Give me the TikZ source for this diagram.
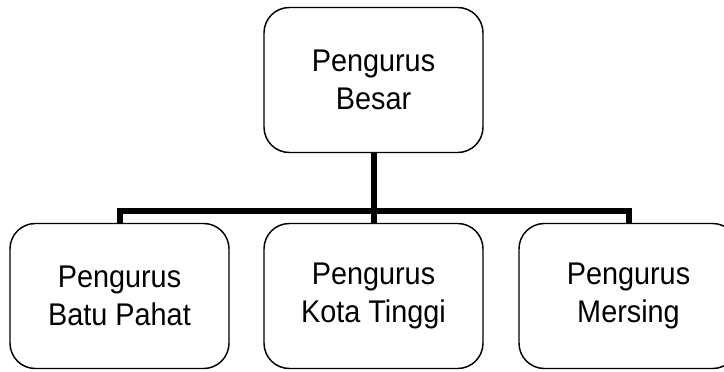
\documentclass[tikz,border=0pt]{standalone}
\usepackage{fontspec}
\setmainfont[FakeStretch=0.92]{Liberation Sans}
\tikzset{every picture/.style={line width=0.75pt}}
\tikzset{
  unitbox/.style={draw, rounded corners=19pt, line width=1.1pt, minimum width=164.25pt,
    minimum height=108.75pt, align=center, font=\fontsize{23.5}{28}\selectfont},
  bar/.style={line width=4.5pt}
}

\begin{document}
\begin{tikzpicture}[x=0.75pt,y=0.75pt,yscale=-1,xscale=1]
\useasboundingbox (0,0) rectangle (724,371);

% Boxes
\node (besar) [unitbox] at (373.5,80) {Pengurus\\Besar};
\node (batu) [unitbox] at (119.5,296) {Pengurus\\Batu Pahat};
\node (kota) [unitbox] at (373.5,296) {Pengurus\\Kota Tinggi};
\node (mersing) [unitbox] at (628.5,296) {Pengurus\\Mersing};

% Connectors
\coordinate (split) at (373.5,211);
\draw [bar] (besar.south) -- (kota.north);
\draw [bar] (batu.north) |- (split) -| (mersing.north);

\end{tikzpicture}
\end{document}
